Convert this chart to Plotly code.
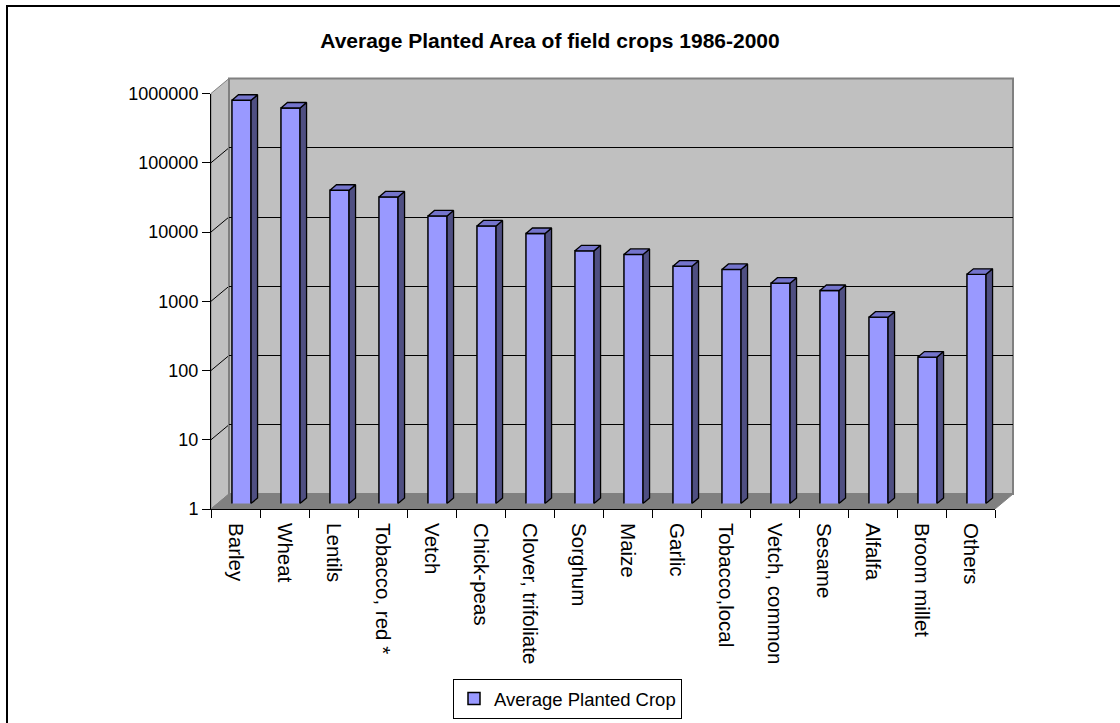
import numpy as np
import plotly.graph_objects as go

# ---------------- data ----------------
crops = ["Barley", "Wheat", "Lentils", "Tobacco, red *", "Vetch", "Chick-peas",
         "Clover, trifoliate", "Sorghum", "Maize", "Garlic", "Tobacco,local",
         "Vetch, common", "Sesame", "Alfalfa", "Broom millet", "Others"]
planted_area = [665000, 514000, 33400, 26700, 14200, 10200, 7930, 4450,
                3950, 2670, 2400, 1520, 1190, 491, 130, 2040]
series_name = "Average Planted Crop"
title_text = "Average Planted Area of field crops 1986-2000"
ytick_vals = [1, 10, 100, 1000, 10000, 100000, 1000000]
ytick_text = ["1", "10", "100", "1000", "10000", "100000", "1000000"]

# ---------------- geometry (pixels) ----------------
W, H = 1120, 723
FONT = "Liberation Sans, Arial, sans-serif"
FX0, FX1 = 211, 995        # front plane x extent
FY1 = 509                  # pixel y of value 1 on the front plane
PPD = 69.25                # pixels per decade
DEC = 6
DX, DY = 18, 15            # depth of the back wall
BX, BY = 6, 5.5            # bar front-face offset from front plane
BDX, BDY = 6.5, 5.5        # bar depth
BAR_W = 0.39
NCAT = len(crops)
CAT_PX = (FX1 - FX0) / NCAT


def px(x):
    return x / W


def py(y):
    return 1 - y / H


def dom_x(x0):
    return [px(x0), px(x0 + (FX1 - FX0))]


def dom_y(y1):
    return [py(y1), py(y1 - DEC * PPD)]


idx = np.arange(NCAT)
vals = np.array(planted_area, dtype=float)

fig = go.Figure()

# invisible anchors so that the front axes and back wall subplots are drawn
for xa, ya in (("x", "y"), ("x2", "y2")):
    fig.add_trace(go.Scatter(x=idx, y=vals, mode="markers",
                             marker=dict(opacity=0, size=1),
                             xaxis=xa, yaxis=ya, showlegend=False,
                             hoverinfo="skip"))

# front faces of the columns
fig.add_trace(go.Bar(
    x=idx, y=vals, width=BAR_W, name=series_name,
    marker=dict(color="#9999ff", line=dict(color="black", width=1.5)),
    xaxis="x3", yaxis="y3", customdata=crops,
    hovertemplate="%{customdata}: %{y}<extra></extra>",
))

# 3D side and top faces derived from the data
dx = BDX / CAT_PX
f = 10 ** (BDY / PPD)
sx, sy, tx, ty = [], [], [], []
for i, v in zip(idx, vals):
    xl, xr = i - BAR_W / 2, i + BAR_W / 2
    sx += [xr, xr + dx, xr + dx, xr, xr, None]
    sy += [v, v * f, 1 * f, 1, v, None]
    tx += [xl, xl + dx, xr + dx, xr, xl, None]
    ty += [v, v * f, v * f, v, v, None]
fig.add_trace(go.Scatter(x=sx, y=sy, mode="lines", fill="toself",
                         fillcolor="#4f4f82", line=dict(color="black", width=1.3),
                         xaxis="x3", yaxis="y3", showlegend=False, hoverinfo="skip"))
fig.add_trace(go.Scatter(x=tx, y=ty, mode="lines", fill="toself",
                         fillcolor="#7474cc", line=dict(color="black", width=1.3),
                         xaxis="x3", yaxis="y3", showlegend=False, hoverinfo="skip"))

shapes = []
# outer chart border (only left/top visible in frame)
shapes.append(dict(type="rect", xref="paper", yref="paper",
                   x0=px(7), x1=1.05, y0=-0.05, y1=py(6),
                   line=dict(color="black", width=2), fillcolor="rgba(0,0,0,0)",
                   layer="below"))


def P(x, y):
    return f"{px(x):.5f},{py(y):.5f}"


# left wall
ytop = FY1 - DEC * PPD
shapes.append(dict(type="path", xref="paper", yref="paper",
                   path=f"M{P(FX0, FY1)} L{P(FX0, ytop)} L{P(FX0 + DX, ytop - DY)} L{P(FX0 + DX, FY1 - DY)} Z",
                   fillcolor="#c0c0c0", line=dict(color="#808080", width=1), layer="below"))
# floor
shapes.append(dict(type="path", xref="paper", yref="paper",
                   path=f"M{P(FX0, FY1)} L{P(FX1, FY1)} L{P(FX1 + DX, FY1 - DY)} L{P(FX0 + DX, FY1 - DY)} Z",
                   fillcolor="#808080", line=dict(color="#808080", width=1), layer="below"))
# diagonal grid lines on the left wall
for k in range(1, DEC):
    yk = FY1 - k * PPD
    shapes.append(dict(type="line", xref="paper", yref="paper",
                       x0=px(FX0), y0=py(yk), x1=px(FX0 + DX), y1=py(yk - DY),
                       line=dict(color="black", width=1), layer="below"))
# back wall
shapes.append(dict(type="rect", xref="x2 domain", yref="y2 domain",
                   x0=0, x1=1, y0=0, y1=1, fillcolor="#c0c0c0",
                   line=dict(color="#808080", width=2), layer="below"))

axis_font = dict(family=FONT, size=18, color="black")

fig.update_layout(
    width=W, height=H,
    margin=dict(l=0, r=0, t=0, b=0, pad=0, autoexpand=False),
    paper_bgcolor="white", plot_bgcolor="rgba(0,0,0,0)",
    font=dict(family=FONT, color="black"),
    title=dict(text=f"<b>{title_text}</b>", x=px(550), xanchor="center",
               y=py(41), yanchor="middle",
               font=dict(family=FONT, size=21, color="black")),
    shapes=shapes,
    showlegend=True,
    legend=dict(orientation="h", x=px(567.5), xanchor="center",
                y=py(699), yanchor="middle",
                bordercolor="black", borderwidth=1, bgcolor="white",
                font=dict(family=FONT, size=18.5, color="black")),
    # front axes
    xaxis=dict(domain=dom_x(FX0), range=[-0.5, NCAT - 0.5], anchor="y",
               automargin=False,
               tickmode="array", tickvals=list(idx), ticktext=crops,
               tickangle=90, ticks="outside", ticklen=9,
               tickcolor="rgba(0,0,0,0)",
               minor=dict(tickmode="array", tickvals=list(np.arange(-0.5, NCAT, 1.0)),
                          ticks="outside", ticklen=8, tickcolor="black", tickwidth=1),
               showline=True, linecolor="black", linewidth=1,
               showgrid=False, zeroline=False,
               tickfont=dict(family=FONT, size=20.5, color="black")),
    yaxis=dict(domain=dom_y(FY1), type="log", range=[0, DEC], anchor="x",
               automargin=False,
               tickmode="array", tickvals=ytick_vals, ticktext=ytick_text,
               ticks="outside", ticklen=8, tickcolor="black",
               showline=True, linecolor="black", linewidth=1,
               showgrid=False, zeroline=False, tickfont=axis_font),
    # back wall axes
    xaxis2=dict(domain=dom_x(FX0 + DX), range=[-0.5, NCAT - 0.5], anchor="y2",
                visible=False, automargin=False),
    yaxis2=dict(domain=dom_y(FY1 - DY), type="log", range=[0, DEC], anchor="x2",
                automargin=False,
                tickmode="array", tickvals=ytick_vals[1:-1],
                showticklabels=False, ticks="", showline=False,
                showgrid=True, gridcolor="black", gridwidth=1, zeroline=False),
    # bar plane axes
    xaxis3=dict(domain=dom_x(FX0 + BX), range=[-0.5, NCAT - 0.5], anchor="y3",
                visible=False, automargin=False),
    yaxis3=dict(domain=dom_y(FY1 - BY), type="log", range=[0, DEC], anchor="x3",
                visible=False, automargin=False),
)

fig.write_html("out.html")
